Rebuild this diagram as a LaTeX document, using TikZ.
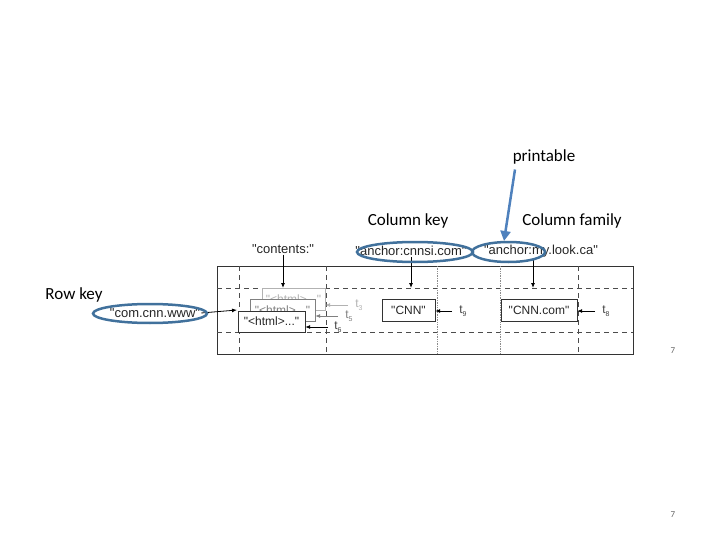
\documentclass[tikz,border=0pt]{standalone}
\usepackage{fontspec}
\setmainfont{Carlito}
\newfontfamily\tabfont{Liberation Sans}
\usetikzlibrary{arrows.meta,positioning}
\definecolor{ringblue}{RGB}{65,113,156}
\definecolor{pointblue}{RGB}{79,129,189}
\tikzstyle{cell}    = [draw=black!80, fill=white, font=\tabfont\fontsize{12}{12}\selectfont, text=black!85, inner sep=0pt, minimum height=22pt]
\tikzstyle{lbl}     = [font=\tabfont\fontsize{13}{13}\selectfont, text=black!85, inner sep=1pt]
\tikzstyle{tlabel}  = [font=\tabfont\fontsize{12}{12}\selectfont, text=black!75, inner sep=0pt]
\tikzstyle{note}    = [font=\fontsize{17}{17}\selectfont, inner sep=0pt]
\tikzstyle{arrow}   = [line width=0.8pt, -{Latex[length=5pt,width=4pt]}]
\tikzstyle{keyring} = [draw=ringblue, line width=2.5pt]
\tikzstyle{divider} = [dash pattern=on 5pt off 4pt, line width=0.7pt, black!70]

\begin{document}
\begin{tikzpicture}[x=1pt,y=-1pt]
		\useasboundingbox (0,0) rectangle (720,540);

		% table frame
		\draw[line width=1pt, black!80] (217,266) rectangle (633,354);
		\draw[divider] (217,288) -- (633,288);
		\draw[divider] (217,332) -- (633,332);
		\draw[divider] (239,266) -- (239,354);
		\draw[divider] (326,266) -- (326,354);
		\draw[divider] (578,266) -- (578,354);
		\draw[densely dotted, line width=0.7pt, black!45] (437,266) -- (437,354);
		\draw[densely dotted, line width=0.7pt, black!45] (500,266) -- (500,354);
		\coordinate (rowtop) at (0,288);

		% labels
		\node[lbl] (contents) at (283,249) {"contents:"};
		\node[lbl] (cnnsi) at (411,251) {"anchor:cnnsi.com"};
		\node[lbl] (mylook) at (541,251) {"anchor:my.look.ca"};
		\node[lbl] (row) at (155,313) {"com.cnn.www"};

		% cells
		\node[cell, draw=black!30, text=black!30, minimum width=63pt] (html3) at (293.5,299) {"<html>..."};
		\node[cell, draw=black!50, text=black!50, minimum width=65pt] (html5) at (282.5,310) {"<html>..."};
		\node[cell, minimum width=67pt, minimum height=21pt] (html6) at (271.5,321.5) {"<html>..."};
		\node[cell, minimum width=53pt] (cnn) at (408.5,310) {"CNN"};
		\node[cell, minimum width=76pt] (cnncom) at (539,310.5) {"CNN.com"};

		\node[tlabel, text=black!30] (t3) at (359,305) {t\raisebox{-.5ex}{\scriptsize 3}};
		\node[tlabel, text=black!50] (t5) at (349,316) {t\raisebox{-.5ex}{\scriptsize 5}};
		\node[tlabel] (t6) at (338,327) {t\raisebox{-.5ex}{\scriptsize 6}};
		\node[tlabel] (t9) at (463,311) {t\raisebox{-.5ex}{\scriptsize 9}};
		\node[tlabel] (t8) at (606,311) {t\raisebox{-.5ex}{\scriptsize 8}};

		\draw[arrow] (contents) -- (contents |- rowtop);
		\draw[arrow] (cnnsi.south) -- (cnnsi.south |- rowtop);
		\draw[arrow] ([xshift=-8pt]mylook.south) -- ([xshift=-8pt]mylook.south |- rowtop);
		\coordinate (rowin) at (237,310);
		\draw[arrow] (row.east) -- (rowin);

		\draw[arrow, black!30] ([xshift=-7pt]t3.west) -- (t3.west -| html3.east);
		\draw[arrow, black!50] ([xshift=-7pt]t5.west) -- (t5.west -| html5.east);
		\draw[arrow] ([xshift=-6pt]t6.west) -- (t6.west -| html6.east);
		\draw[arrow] ([xshift=-7pt]t9.west) -- (t9.west -| cnn.east);
		\draw[arrow] ([xshift=-7pt]t8.west) -- (t8.west -| cnncom.east);

		% blue marks
		\draw[keyring] (415,252) ellipse (58 and 10);
		\draw[keyring] (508.5,252) ellipse (36.5 and 10);
		\draw[keyring] (150,313.5) ellipse (57 and 9.5);

		\node[note] (rowkey) at (74,295) {Row key};
		\node[note] (colkey) at (408,221) {Column key};
		\node[note] (colfam) at (572,221) {Column family};
		\node[note] (printable) at (544,157) {printable};
		\coordinate (pointtip) at (504,241);
		\draw[pointblue, line width=2.5pt, -{Triangle[length=10pt,width=10pt]}] ([xshift=-29pt,yshift=-5pt]printable.south) -- (pointtip);

		\node[font=\fontsize{9}{9}\selectfont, text=black!60] (page1) at (673,351) {7};
		\node[font=\fontsize{9}{9}\selectfont, text=black!60] (page2) at (673,515) {7};
	\end{tikzpicture}
\end{document}
